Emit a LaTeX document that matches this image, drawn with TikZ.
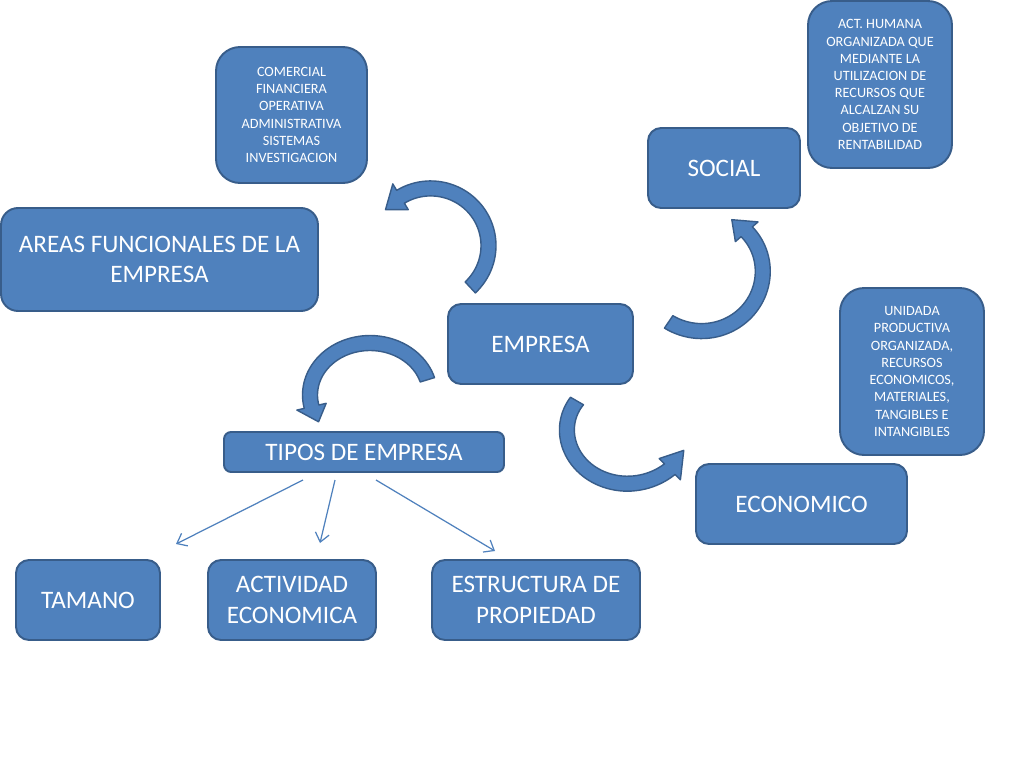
\documentclass[tikz,border=0pt]{standalone}
\usepackage{fontspec}
\setmainfont{Carlito}
\usetikzlibrary{arrows.meta}
\definecolor{boxc}{HTML}{4F81BD}
\definecolor{bordc}{HTML}{385D8A}
\newcommand{\bigf}{\fontsize{14.3}{17.4}\selectfont}
\newcommand{\smallf}{\fontsize{8.1}{9.8}\selectfont}
\newcommand{\bendarrow}[9]{%
\filldraw[bandarrow] plot[domain=#5:#6,samples=50,variable=\t] ({#1+((#3)*(1+((#9)-1)*(\t-(#5))/((#6)-(#5)))+(#7)/2)*cos(\t)},{#2-((#4)*(1+((#9)-1)*(\t-(#5))/((#6)-(#5)))+(#7)/2)*sin(\t)}) -- ({#1+((#3)*(#9)+(#7))*cos(#6)},{#2-((#4)*(#9)+(#7))*sin(#6)}) -- ({#1+(#3)*(#9)*cos((#6)+(#8))},{#2-(#4)*(#9)*sin((#6)+(#8))}) -- ({#1+((#3)*(#9)-(#7))*cos(#6)},{#2-((#4)*(#9)-(#7))*sin(#6)}) -- plot[domain=#6:#5,samples=50,variable=\t] ({#1+((#3)*(1+((#9)-1)*(\t-(#5))/((#6)-(#5)))-(#7)/2)*cos(\t)},{#2-((#4)*(1+((#9)-1)*(\t-(#5))/((#6)-(#5)))-(#7)/2)*sin(\t)}) -- cycle;}
\tikzset{
  box/.style={draw=bordc, fill=boxc, line width=1.1pt, text=white, align=center,
    inner sep=0pt, font=\bigf, rounded corners=0.26cm},
  smallbox/.style={box, font=\smallf, rounded corners=0.48cm},
  bandarrow/.style={draw=bordc, fill=boxc, line width=0.8pt, line join=round},
  thin/.style={draw=boxc, line width=0.7pt, -{Straight Barb[length=5pt,width=8pt]}}
}
\begin{document}
\begin{tikzpicture}[x=0.02cm,y=-0.02cm]
\fill[white] (0,0) rectangle (1024,768);
\useasboundingbox (0,0) rectangle (1024,768);

% boxes
\node[smallbox, minimum width=3.02cm, minimum height=2.72cm] (com) at (291.5,115)
  {COMERCIAL\\FINANCIERA\\OPERATIVA\\ADMINISTRATIVA\\SISTEMAS\\INVESTIGACION};
\node[box, minimum width=6.34cm, minimum height=2.06cm, rounded corners=0.34cm] (areas) at (159.5,259.5)
  {AREAS FUNCIONALES DE LA\\EMPRESA};
\node[box, minimum width=3.04cm, minimum height=1.6cm] (social) at (724,168) {SOCIAL};
\node[smallbox, minimum width=2.88cm, minimum height=3.34cm] (act) at (880,84.5)
  {ACT. HUMANA\\ORGANIZADA QUE\\MEDIANTE LA\\UTILIZACION DE\\RECURSOS QUE\\ALCALZAN SU\\OBJETIVO DE\\RENTABILIDAD};
\node[box, minimum width=3.7cm, minimum height=1.6cm] (emp) at (540.5,344) {EMPRESA};
\node[smallbox, minimum width=2.88cm, minimum height=3.34cm] (unid) at (912,371.5)
  {UNIDADA\\PRODUCTIVA\\ORGANIZADA,\\RECURSOS\\ECONOMICOS,\\MATERIALES,\\TANGIBLES E\\INTANGIBLES};
\node[box, minimum width=5.6cm, minimum height=0.8cm, rounded corners=0.14cm] (tipos) at (364,452) {TIPOS DE EMPRESA};
\node[box, minimum width=4.22cm, minimum height=1.6cm] (eco) at (801.5,504) {ECONOMICO};
\node[box, minimum width=2.88cm, minimum height=1.6cm] (tam) at (88,600) {TAMANO};
\node[box, minimum width=3.36cm, minimum height=1.6cm] (actec) at (292,600) {ACTIVIDAD\\ECONOMICA};
\node[box, minimum width=4.16cm, minimum height=1.6cm] (estr) at (536,600) {ESTRUCTURA DE\\PROPIEDAD};

% thin arrows
\coordinate (t1) at (303,480);
\coordinate (t2) at (335,480);
\coordinate (t3) at (376,480);
\coordinate (e1) at (176,544);
\coordinate (e2) at (320,543);
\coordinate (e3) at (495,551);
\draw[thin] (t1) -- (e1);
\draw[thin] (t2) -- (e2);
\draw[thin] (t3) -- (e3);

% curved block arrows
\bendarrow{430}{245}{59}{58}{-47}{121}{15}{20}{0.97}
\bendarrow{370}{395}{60}{52}{17}{193}{15}{18}{1}
\bendarrow{622}{425}{52}{48}{150}{315}{15}{21}{1.3}
\bendarrow{705}{268}{65}{65}{236}{401}{15}{20}{0.85}
\end{tikzpicture}
\end{document}
